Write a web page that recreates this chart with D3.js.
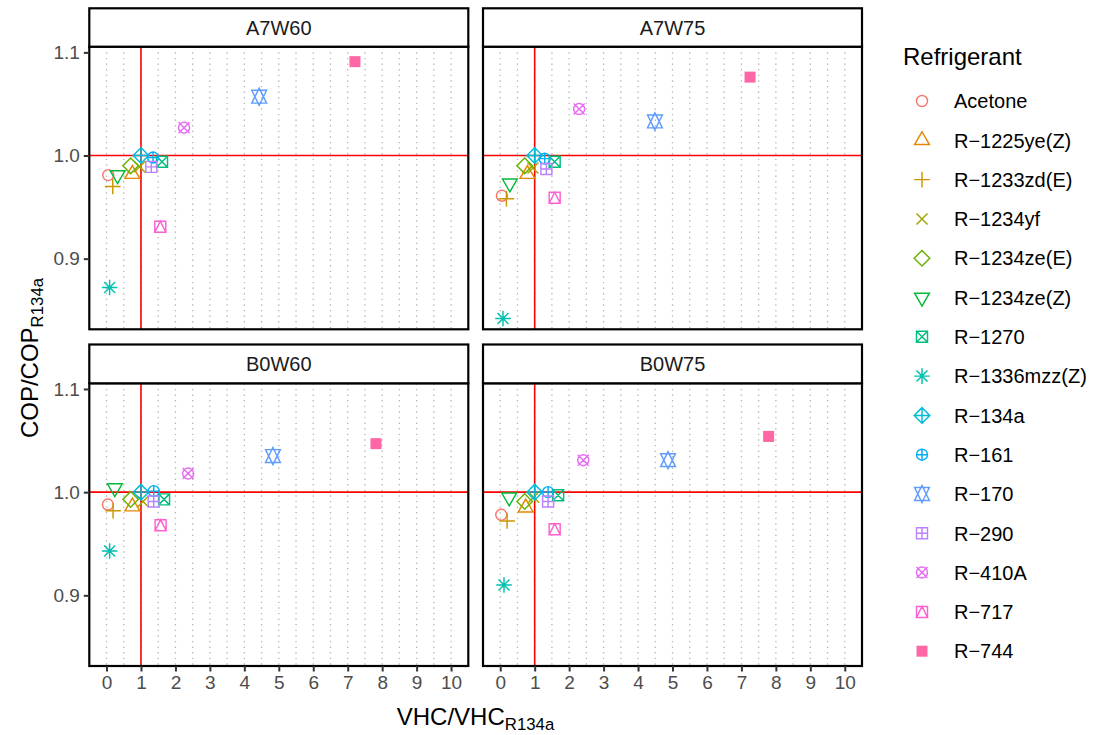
<!DOCTYPE html>
<html>
<head>
<meta charset="utf-8">
<script src="https://cdn.jsdelivr.net/npm/d3@7"></script>
<style>
  body { margin: 0; background: #fff; }
  text { font-family: "Liberation Sans", Arial, sans-serif; }
</style>
</head>
<body>
<svg id="chart" width="1096" height="735"></svg>
<script>
// ---- data -------------------------------------------------------------
const refrigerants = ["Acetone", "R-1225ye(Z)", "R-1233zd(E)", "R-1234yf", "R-1234ze(E)",
  "R-1234ze(Z)", "R-1270", "R-1336mzz(Z)", "R-134a", "R-161", "R-170", "R-290",
  "R-410A", "R-717", "R-744"];
const facets = ["A7W60", "A7W75", "B0W60", "B0W75"];

// volumetric heating capacity relative to R-134a, per facet (same order as refrigerants)
const vhcA7W60 = [0.05, 0.75, 0.18, 0.96, 0.70, 0.32, 1.61, 0.09, 1.00, 1.35, 4.43, 1.30, 2.25, 1.56, 7.21];
const vhcA7W75 = [0.05, 0.79, 0.18, 0.95, 0.71, 0.28, 1.58, 0.08, 1.00, 1.29, 4.49, 1.34, 2.29, 1.58, 7.25];
const vhcB0W60 = [0.04, 0.75, 0.19, 1.06, 0.70, 0.24, 1.67, 0.09, 1.00, 1.37, 4.83, 1.37, 2.37, 1.57, 7.82];
const vhcB0W75 = [0.03, 0.74, 0.20, 0.97, 0.71, 0.26, 1.68, 0.11, 1.00, 1.39, 4.87, 1.39, 2.41, 1.58, 7.79];

// coefficient of performance relative to R-134a, per facet
const copA7W60 = [0.981, 0.982, 0.970, 0.989, 0.990, 0.981, 0.994, 0.872, 1.000, 0.998, 1.057, 0.989, 1.027, 0.931, 1.091];
const copA7W75 = [0.961, 0.982, 0.958, 0.988, 0.990, 0.973, 0.994, 0.842, 1.000, 0.997, 1.033, 0.987, 1.045, 0.959, 1.076];
const copB0W60 = [0.988, 0.986, 0.982, 0.991, 0.993, 1.004, 0.993, 0.943, 1.000, 1.001, 1.035, 0.991, 1.018, 0.968, 1.047];
const copB0W75 = [0.978, 0.985, 0.972, 0.995, 0.991, 0.995, 0.997, 0.910, 1.000, 1.000, 1.031, 0.991, 1.031, 0.964, 1.054];

const xTickValues = [0, 1, 2, 3, 4, 5, 6, 7, 8, 9, 10];
const xTickLabels = ["0", "1", "2", "3", "4", "5", "6", "7", "8", "9", "10"];
const yTickValues = [0.9, 1.0, 1.1];
const yTickLabels = ["0.9", "1.0", "1.1"];
const gridValues = d3.range(0, 10.01, 0.5);

const palette = ["#F8766D", "#E58700", "#C99800", "#A3A500", "#6BB100", "#00BA38", "#00BF7D",
  "#00C0AF", "#00BCD8", "#00B0F6", "#619CFF", "#B983FF", "#E76BF3", "#FD61D1", "#FF67A4"];
const shapeCodes = [1, 2, 3, 4, 5, 6, 7, 8, 9, 10, 11, 12, 13, 14, 15];

const facetData = {
  A7W60: { vhc: vhcA7W60, cop: copA7W60 },
  A7W75: { vhc: vhcA7W75, cop: copA7W75 },
  B0W60: { vhc: vhcB0W60, cop: copB0W60 },
  B0W75: { vhc: vhcB0W75, cop: copB0W75 }
};

// ---- layout -----------------------------------------------------------
const svg = d3.select("#chart");
const cols = [{ x0: 89.3, x1: 468.3 }, { x0: 483, x1: 862 }];
const rows = [{ s0: 8.3, p0: 46.7, p1: 329.3 }, { s0: 344.5, p0: 383.3, p1: 666 }];
const xDomain = [-0.5, 10.5];
const yDomain = [0.8315, 1.1055];
const markR = 5.5;
const markStroke = 1.45;
const borderW = 2.2;

// R-style plotting symbols (pch 1..15) as path strings around the origin
function symbolPath(code, r) {
  const circle = rr => `M${-rr},0A${rr},${rr} 0 1,0 ${rr},0A${rr},${rr} 0 1,0 ${-rr},0Z`;
  const plus = a => `M${-a},0L${a},0M0,${-a}L0,${a}`;
  const cross = a => `M${-a},${-a}L${a},${a}M${-a},${a}L${a},${-a}`;
  const square = a => `M${-a},${-a}L${a},${-a}L${a},${a}L${-a},${a}Z`;
  const diamond = a => `M0,${-a}L${a},0L0,${a}L${-a},0Z`;
  const s2 = Math.SQRT2 * r;
  const tH = 1.5551 * r, tW = 1.3468 * r, tB = 0.7776 * r;
  switch (code) {
    case 1: return circle(r);
    case 2: return `M0,${-tH}L${tW},${tB}L${-tW},${tB}Z`;
    case 3: return plus(s2);
    case 4: return cross(r);
    case 5: return diamond(s2);
    case 6: return `M0,${tH}L${tW},${-tB}L${-tW},${-tB}Z`;
    case 7: return square(r) + cross(r);
    case 8: return cross(r) + plus(s2);
    case 9: return diamond(s2) + plus(s2);
    case 10: return circle(r) + plus(r);
    case 11: {
      const yc = 0.5 * (tB + tH);
      return `M0,${-tH}L${tW},${yc}L${-tW},${yc}Z` + `M0,${tH}L${tW},${-yc}L${-tW},${-yc}Z`;
    }
    case 12: return square(r) + plus(r);
    case 13: return circle(r) + cross(r);
    case 14: return square(r) + `M0,${-r}L${r},${r}L${-r},${r}Z`;
    case 15: return square(r);
  }
}

function drawSymbol(g, code, color, x, y) {
  const filled = code === 15;
  g.append("path")
    .attr("d", symbolPath(code, markR))
    .attr("transform", `translate(${x},${y})`)
    .attr("fill", filled ? color : "none")
    .attr("stroke", filled ? "none" : color)
    .attr("stroke-width", markStroke)
    .attr("stroke-linejoin", "miter");
}

facets.forEach((name, fi) => {
  const col = cols[fi % 2], row = rows[Math.floor(fi / 2)];
  const x = d3.scaleLinear().domain(xDomain).range([col.x0, col.x1]);
  const y = d3.scaleLinear().domain(yDomain).range([row.p1, row.p0]);
  const g = svg.append("g");

  // vertical dotted grid at every half unit
  g.selectAll("line.grid").data(gridValues).enter().append("line")
    .attr("x1", d => x(d)).attr("x2", d => x(d))
    .attr("y1", row.p0).attr("y2", row.p1)
    .attr("stroke", "#B8B8B8").attr("stroke-width", 1.3)
    .attr("stroke-dasharray", "1.4,4.2");

  // reference lines at the R-134a level
  g.append("line").attr("x1", col.x0).attr("x2", col.x1)
    .attr("y1", y(1)).attr("y2", y(1))
    .attr("stroke", "#FF0000").attr("stroke-width", 1.6);
  g.append("line").attr("x1", x(1)).attr("x2", x(1))
    .attr("y1", row.p0).attr("y2", row.p1)
    .attr("stroke", "#FF0000").attr("stroke-width", 1.6);

  // points
  const d = facetData[name];
  refrigerants.forEach((ref, i) => {
    drawSymbol(g, shapeCodes[i], palette[i], x(d.vhc[i]), y(d.cop[i]));
  });

  // panel border
  g.append("rect").attr("x", col.x0).attr("y", row.p0)
    .attr("width", col.x1 - col.x0).attr("height", row.p1 - row.p0)
    .attr("fill", "none").attr("stroke", "#000").attr("stroke-width", borderW);

  // strip
  g.append("rect").attr("x", col.x0).attr("y", row.s0)
    .attr("width", col.x1 - col.x0).attr("height", row.p0 - row.s0)
    .attr("fill", "#fff").attr("stroke", "#000").attr("stroke-width", borderW);
  g.append("text").attr("x", (col.x0 + col.x1) / 2).attr("y", (row.s0 + row.p0) / 2)
    .attr("dy", "0.36em").attr("text-anchor", "middle")
    .attr("font-size", 20).attr("fill", "#1A1A1A").text(name);

  // y axis on the left column
  if (fi % 2 === 0) {
    const ax = g.append("g").attr("transform", `translate(${col.x0},0)`)
      .call(d3.axisLeft(y).tickValues(yTickValues)
        .tickFormat((v, k) => yTickLabels[k]).tickSize(5.5).tickPadding(4));
    ax.select(".domain").remove();
    ax.selectAll(".tick line").attr("stroke", "#333").attr("stroke-width", 2);
    ax.selectAll(".tick text").attr("font-size", 19).attr("fill", "#4D4D4D")
      .attr("font-family", "Liberation Sans, Arial, sans-serif");
  }
  // x axis on the bottom row
  if (fi >= 2) {
    const ax = g.append("g").attr("transform", `translate(0,${row.p1})`)
      .call(d3.axisBottom(x).tickValues(xTickValues)
        .tickFormat((v, k) => xTickLabels[k]).tickSize(5.5).tickPadding(4));
    ax.select(".domain").remove();
    ax.selectAll(".tick line").attr("stroke", "#333").attr("stroke-width", 2);
    ax.selectAll(".tick text").attr("font-size", 19).attr("fill", "#4D4D4D")
      .attr("font-family", "Liberation Sans, Arial, sans-serif");
  }
});

// ---- axis titles --------------------------------------------------------
const xTitle = svg.append("text").attr("x", 475.5).attr("y", 725)
  .attr("text-anchor", "middle").attr("font-size", 24).attr("fill", "#000");
xTitle.append("tspan").text("VHC/VHC");
xTitle.append("tspan").attr("font-size", 16.8).attr("dy", 5).text("R134a");

const yTitle = svg.append("text")
  .attr("transform", "translate(38,358) rotate(-90)")
  .attr("text-anchor", "middle").attr("font-size", 24).attr("fill", "#000");
yTitle.append("tspan").text("COP/COP");
yTitle.append("tspan").attr("font-size", 16.8).attr("dy", 5).text("R134a");

// ---- legend -------------------------------------------------------------
const legend = svg.append("g");
legend.append("text").attr("x", 903).attr("y", 65)
  .attr("font-size", 24).attr("fill", "#000").text("Refrigerant");
const keyY = d3.scaleLinear().domain([0, refrigerants.length - 1]).range([101, 651.2]);
refrigerants.forEach((ref, i) => {
  drawSymbol(legend, shapeCodes[i], palette[i], 922, keyY(i));
  legend.append("text").attr("x", 954).attr("y", keyY(i)).attr("dy", "0.36em")
    .attr("font-size", 20).attr("fill", "#000").text(ref.replace(/-/g, "\u2212"));
});
</script>
</body>
</html>
